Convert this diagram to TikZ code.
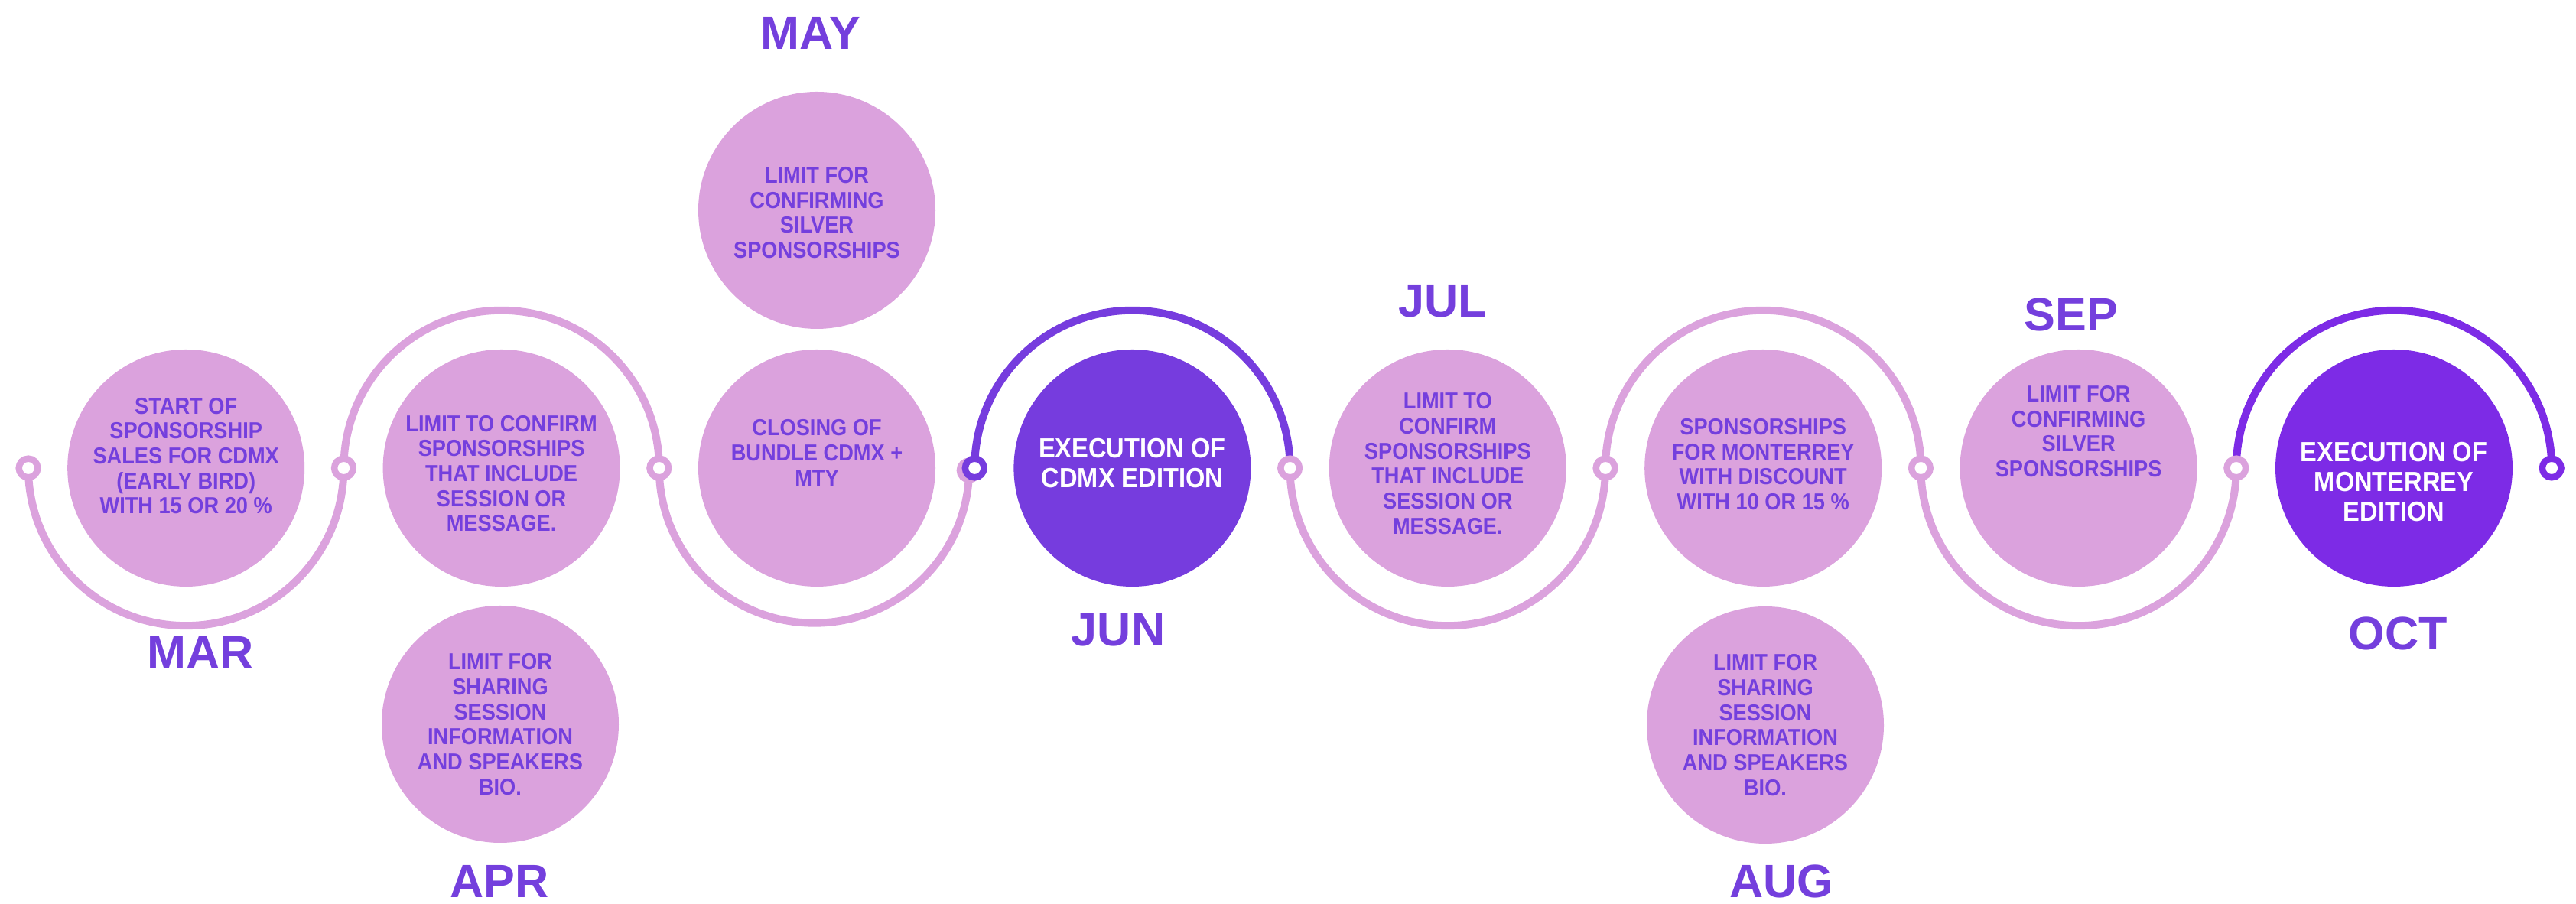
\documentclass[tikz,border=0pt]{standalone}
\usepackage{fontspec}
\setmainfont{Liberation Sans}
\newfontfamily\evtfont{Liberation Sans}[FakeStretch=0.9]
\definecolor{lilac}{HTML}{DBA2DD}
\definecolor{grape}{HTML}{743FDD}
\definecolor{junplum}{HTML}{763CDE}
\definecolor{octplum}{HTML}{7D2BE6}
\begin{document}
\begin{tikzpicture}[
  evt/.style={circle,fill=lilac,minimum size=3.1cm,inner sep=0pt},
  evttxt/.style={text=grape,align=center,inner sep=0pt,font=\evtfont\bfseries\fontsize{8.6}{9.3}\selectfont},
  bigtxt/.style={text=white,align=center,inner sep=0pt,font=\evtfont\bfseries\fontsize{10.3}{11.1}\selectfont},
  month/.style={text=grape,inner sep=0pt,font=\bfseries\fontsize{17.4}{18}\selectfont},
  ring/.style={circle,draw=#1,fill=white,line width=0.085cm,minimum size=0.246cm,inner sep=0pt},
  track/.style={draw=#1,line width=0.1cm}]
 \useasboundingbox (0,-5.70) rectangle (33.68,6.12);
 \coordinate (j0) at (0.37,0);
 \coordinate (j1) at (4.494,0);
 \coordinate (j2) at (8.618,0);
 \coordinate (j3) at (12.742,0);
 \coordinate (j3p) at (12.672,-0.03);
 \coordinate (j4) at (16.866,0);
 \coordinate (j5) at (20.99,0);
 \coordinate (j6) at (25.114,0);
 \coordinate (j7) at (29.238,0);
 \coordinate (j8) at (33.362,0);
 % track
 \draw[track=lilac] (j0) arc[start angle=180,end angle=360,radius=2.062];
 \draw[track=lilac] (j1) arc[start angle=180,end angle=0,radius=2.062];
 \draw[track=lilac] (j2) arc[start angle=180,end angle=360,radius=2.027];
 \draw[track=junplum] (j3) arc[start angle=180,end angle=0,radius=2.062];
 \draw[track=lilac] (j4) arc[start angle=180,end angle=360,radius=2.062];
 \draw[track=lilac] (j5) arc[start angle=180,end angle=0,radius=2.062];
 \draw[track=lilac] (j6) arc[start angle=180,end angle=360,radius=2.062];
 \draw[track=octplum] (j7) arc[start angle=180,end angle=0,radius=2.062];
 \node[ring=lilac] (r0) at (j0) {};
 \node[ring=lilac] (r1) at (j1) {};
 \node[ring=lilac] (r2) at (j2) {};
 \node[ring=lilac] (r3p) at (j3p) {};
 \node[ring=junplum] (r3) at (j3) {};
 \node[ring=lilac] (r4) at (j4) {};
 \node[ring=lilac] (r5) at (j5) {};
 \node[ring=lilac] (r6) at (j6) {};
 \node[ring=lilac] (r7) at (j7) {};
 \node[ring=octplum] (r8) at (j8) {};
 % events
 \node[evt] (mar) at (2.432,0) {};
 \node[evttxt] (martxt) at (2.432,0.16) {START OF\\SPONSORSHIP\\SALES FOR CDMX\\(EARLY BIRD)\\WITH 15 OR 20 \%};
 \node[evt] (apra) at (6.556,0) {};
 \node[evttxt] (apratxt) at (6.556,-0.07) {LIMIT TO CONFIRM\\SPONSORSHIPS\\THAT INCLUDE\\SESSION OR\\MESSAGE.};
 \node[evt] (aprb) at (6.54,-3.35) {};
 \node[evttxt] (aprbtxt) at (6.54,-3.35) {LIMIT FOR\\SHARING\\SESSION\\INFORMATION\\AND SPEAKERS\\BIO.};
 \node[evt] (maya) at (10.68,0) {};
 \node[evttxt] (mayatxt) at (10.68,0.20) {CLOSING OF\\BUNDLE CDMX +\\MTY};
 \node[evt] (mayb) at (10.68,3.37) {};
 \node[evttxt] (maybtxt) at (10.68,3.34) {LIMIT FOR\\CONFIRMING\\SILVER\\SPONSORSHIPS};
 \node[evt,fill=junplum] (jun) at (14.804,0) {};
 \node[bigtxt] (juntxt) at (14.804,0.06) {EXECUTION OF\\CDMX EDITION};
 \node[evt] (jul) at (18.928,0) {};
 \node[evttxt] (jultxt) at (18.928,0.06) {LIMIT TO\\CONFIRM\\SPONSORSHIPS\\THAT INCLUDE\\SESSION OR\\MESSAGE.};
 \node[evt] (auga) at (23.052,0) {};
 \node[evttxt] (augatxt) at (23.052,0.05) {SPONSORSHIPS\\FOR MONTERREY\\WITH DISCOUNT\\WITH 10 OR 15 \%};
 \node[evt] (augb) at (23.08,-3.36) {};
 \node[evttxt] (augbtxt) at (23.08,-3.36) {LIMIT FOR\\SHARING\\SESSION\\INFORMATION\\AND SPEAKERS\\BIO.};
 \node[evt] (sep) at (27.176,0) {};
 \node[evttxt] (septxt) at (27.176,0.48) {LIMIT FOR\\CONFIRMING\\SILVER\\SPONSORSHIPS};
 \node[evt,fill=octplum] (oct) at (31.30,0) {};
 \node[bigtxt] (octtxt) at (31.30,-0.18) {EXECUTION OF\\MONTERREY\\EDITION};
 % months
 \node[month] (marlbl) at (2.62,-2.41) {MAR};
 \node[month] (aprlbl) at (6.53,-5.40) {APR};
 \node[month] (maylbl) at (10.60,5.69) {MAY};
 \node[month] (junlbl) at (14.62,-2.12) {JUN};
 \node[month] (jullbl) at (18.86,2.18) {JUL};
 \node[month] (auglbl) at (23.29,-5.40) {AUG};
 \node[month] (seplbl) at (27.08,2.01) {SEP};
 \node[month] (octlbl) at (31.35,-2.16) {OCT};
\end{tikzpicture}
\end{document}
